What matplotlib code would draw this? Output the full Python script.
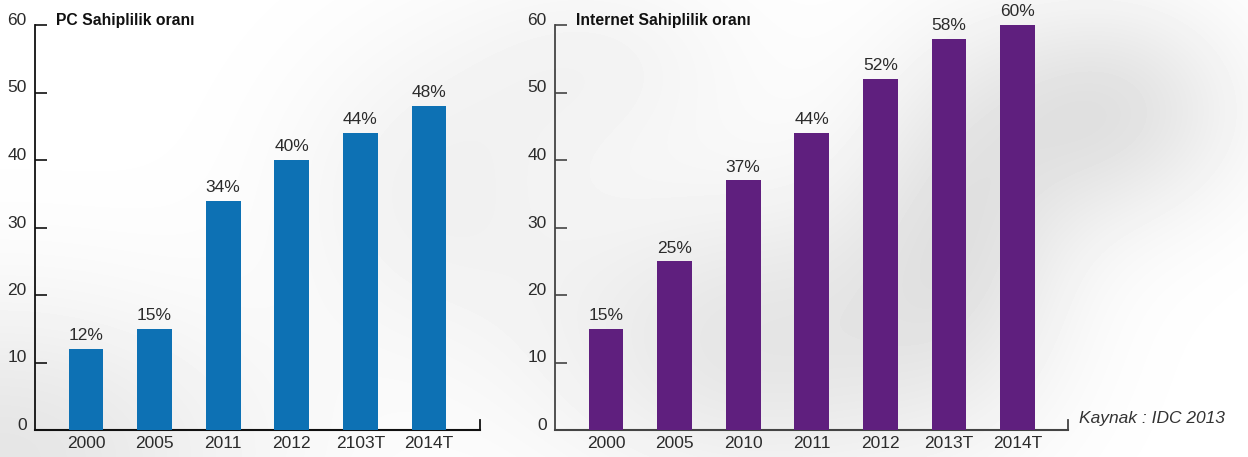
import numpy as np
import matplotlib
matplotlib.use("Agg")
import matplotlib.pyplot as plt
from matplotlib import font_manager as fm

# ---- data ----
pc_categories = ["2000", "2005", "2011", "2012", "2103T", "2014T"]
pc_values = [12, 15, 34, 40, 44, 48]
net_categories = ["2000", "2005", "2010", "2011", "2012", "2013T", "2014T"]
net_values = [15, 25, 37, 44, 52, 58, 60]
y_ticks = [0, 10, 20, 30, 40, 50, 60]
pc_title = "PC Sahiplilik oranı"
net_title = "Internet Sahiplilik oranı"
source_text = "Kaynak : IDC 2013"

names = {f.name for f in fm.fontManager.ttflist}
narrow = "Liberation Sans Narrow" if "Liberation Sans Narrow" in names else "Liberation Sans"
plt.rcParams["font.family"] = ["Liberation Sans", "DejaVu Sans"]

W, H = 1248, 457
fig = plt.figure(figsize=(W / 100, H / 100), dpi=100)

# background soft gray shading
bg = fig.add_axes([0, 0, 1, 1], zorder=-10)
yy, xx = np.mgrid[0:H, 0:W]
field = np.ones((H, W))
blobs = [  # (cx, cy, sx, sy, depth)
    (0, 457, 260, 160, 0.10),
    (430, 190, 150, 150, 0.05),
    (760, 340, 220, 150, 0.10),
    (960, 220, 110, 170, 0.09),
    (1110, 110, 130, 110, 0.11),
    (600, 60, 150, 100, 0.04),
]
for cx, cy, sx, sy, d in blobs:
    field -= d * np.exp(-(((xx - cx) / sx) ** 2 + ((yy - cy) / sy) ** 2))
bg.imshow(field, cmap="gray", vmin=0, vmax=1, aspect="auto", interpolation="bilinear")
bg.axis("off")

text_color = "#2b2b2b"


def panel(left_px, right_px, cats, vals, color, title, spine_color):
    n = len(cats)
    spacing = 68.6
    first_center = left_px + 51
    x0 = (left_px - first_center) / spacing
    x1 = x0 + (right_px - left_px) / spacing
    bottom_px, top_px = 430, 25
    ax = fig.add_axes([left_px / W, (H - bottom_px) / H,
                       (right_px - left_px) / W, (bottom_px - top_px) / H])
    ax.patch.set_alpha(0)
    pos = np.arange(n)
    ax.bar(pos, vals, width=0.51, color=color, zorder=3)
    ax.set_xlim(x0, x1)
    ax.set_ylim(0, 60)
    for s in ["top", "right"]:
        ax.spines[s].set_visible(False)
    ax.spines["left"].set_color(spine_color)
    ax.spines["bottom"].set_color(spine_color)
    ax.spines["left"].set_linewidth(1.3)
    ax.spines["bottom"].set_linewidth(1.5)
    ax.set_yticks(y_ticks)
    ax.set_yticklabels([str(t) for t in y_ticks], fontsize=12.5, color=text_color, va="baseline")
    ax.tick_params(axis="y", direction="in", length=8.5, width=1.2, color=spine_color, pad=6)
    ax.set_xticks(pos)
    ax.set_xticklabels(cats, fontsize=12.5, color=text_color)
    ax.tick_params(axis="x", length=0, pad=4)
    for p, v in zip(pos, vals):
        ax.annotate(f"{v}%", (p, v), xytext=(0, 4), textcoords="offset points",
                    ha="center", va="bottom", fontsize=12.5, color=text_color)
    # small end tick on x-axis
    ax.plot([x1, x1], [0, 1.5], color=spine_color, lw=1.3, clip_on=False, zorder=4)
    lo, hi = ax.get_xlim()
    ax.text(lo + 21 / spacing, 60, title, transform=ax.transData,
            fontsize=11.3, fontweight="bold", family=[narrow, "DejaVu Sans"],
            color="#111111", ha="left", va="baseline")
    return ax, x1


panel(35, 480, pc_categories, pc_values, "#0d71b4", pc_title, "#111111")
ax2, xend = panel(555, 1068, net_categories, net_values, "#5f1f7e", net_title, "#444444")
ax2.annotate(source_text, (xend, 0), xytext=(8, 3), textcoords="offset points",
             ha="left", va="bottom", fontsize=12.5, style="italic",
             family=[narrow, "DejaVu Sans"], color="#333333", annotation_clip=False)

fig.savefig("out.png", dpi=100)
